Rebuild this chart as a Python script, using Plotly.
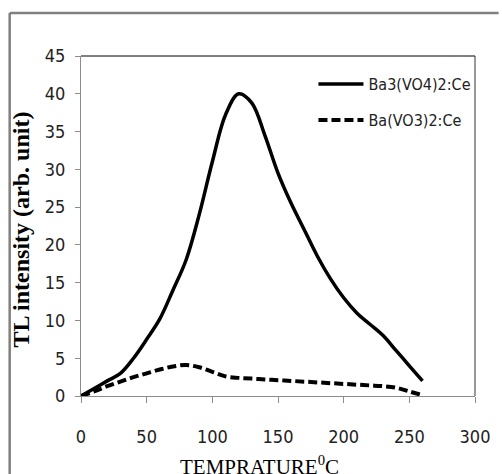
import plotly.graph_objects as go

# temperature (deg C)
temp = [0, 10, 20, 30, 40, 50, 60, 70, 80, 90, 100, 110, 120, 130, 140,
        150, 160, 170, 180, 190, 200, 210, 220, 230, 240, 250, 260]

# TL intensity, Ba3(VO4)2:Ce
tl_ba3 = [0, 1.0, 2.0, 3.0, 5.0, 7.5, 10.2, 14.0, 18.0, 24.0, 31.0, 37.2, 40.0,
          38.8, 34.5, 29.5, 25.5, 22.0, 18.5, 15.5, 13.0, 11.0, 9.5, 8.0, 6.0, 4.0, 2.0]

# TL intensity, Ba(VO3)2:Ce
tl_ba = [0, 0.6, 1.3, 1.9, 2.5, 3.0, 3.5, 3.9, 4.1, 3.8, 3.2, 2.6, 2.4, 2.3, 2.2,
         2.1, 2.0, 1.9, 1.8, 1.7, 1.6, 1.5, 1.4, 1.3, 1.1, 0.6, 0.1]

xticks = [0, 50, 100, 150, 200, 250, 300]
yticks = [0, 5, 10, 15, 20, 25, 30, 35, 40, 45]

narrow = "Liberation Sans Narrow, DejaVu Sans Condensed, Roboto Condensed, Open Sans Condensed, Lato, sans-serif"
serif = "Liberation Serif, Times New Roman, serif"

fig = go.Figure()
fig.add_scatter(x=temp, y=tl_ba3, mode="lines", name="Ba3(VO4)2:Ce",
                legendgroup="a",
                line=dict(color="black", width=3.5, shape="spline", smoothing=1))
fig.add_scatter(x=temp, y=tl_ba, mode="lines", name="Ba(VO3)2:Ce",
                legendgroup="b",
                line=dict(color="black", width=4, dash="9px,4px", shape="spline", smoothing=1))

fig.update_layout(
    width=502, height=474,
    margin=dict(l=81, r=23, t=56, b=78),
    paper_bgcolor="white", plot_bgcolor="white",
    showlegend=True,
    legend=dict(x=0.59, y=0.967, xanchor="left", yanchor="top",
                bgcolor="rgba(0,0,0,0)", traceorder="grouped", tracegroupgap=12,
                itemwidth=45, font=dict(family=narrow, size=16, color="#222")),
    font=dict(family=narrow, size=18, color="#222"),
)
fig.update_xaxes(range=[0, 300], tickvals=xticks, showgrid=False, zeroline=False,
                 showline=True, linecolor="#8c8c8c", linewidth=1,
                 ticks="outside", ticklen=6, tickcolor="#8c8c8c",
                 ticklabelstandoff=18, tickfont=dict(family=narrow, size=18))
fig.update_yaxes(range=[0, 45], tickvals=yticks, showgrid=False, zeroline=False,
                 showline=True, linecolor="#8c8c8c", linewidth=1,
                 ticks="outside", ticklen=5, tickcolor="#8c8c8c",
                 ticklabelstandoff=6, tickfont=dict(family=narrow, size=18))

# plot-area frame top and right
fig.add_shape(type="line", xref="paper", yref="paper", x0=0, x1=1, y0=1, y1=1,
              line=dict(color="black", width=1))
fig.add_shape(type="line", xref="paper", yref="paper", x0=1, x1=1, y0=0, y1=1,
              line=dict(color="#333", width=1))
# outer picture border (top and left)
fig.add_shape(type="line", xref="paper", yref="paper", x0=-0.181, x1=1.06, y0=1.1265, y1=1.1265,
              line=dict(color="#808080", width=2.5))
fig.add_shape(type="line", xref="paper", yref="paper", x0=-0.181, x1=-0.181, y0=1.1265, y1=-0.24,
              line=dict(color="#808080", width=2.5))

fig.add_annotation(text="TEMPRATURE<sup>0</sup>C", xref="paper", yref="paper",
                   x=0.452, y=-0.205, showarrow=False, xanchor="center", yanchor="middle",
                   font=dict(family=serif, size=21, color="black"))
fig.add_annotation(text="<b>TL intensity (arb. unit)</b>", xref="paper", yref="paper",
                   x=-0.151, y=0.488, textangle=-90, showarrow=False,
                   xanchor="center", yanchor="middle",
                   font=dict(family=serif, size=24, color="black"))

fig.write_html("out.html", config={"displayModeBar": False},
               post_script="document.body.style.margin='0';")
